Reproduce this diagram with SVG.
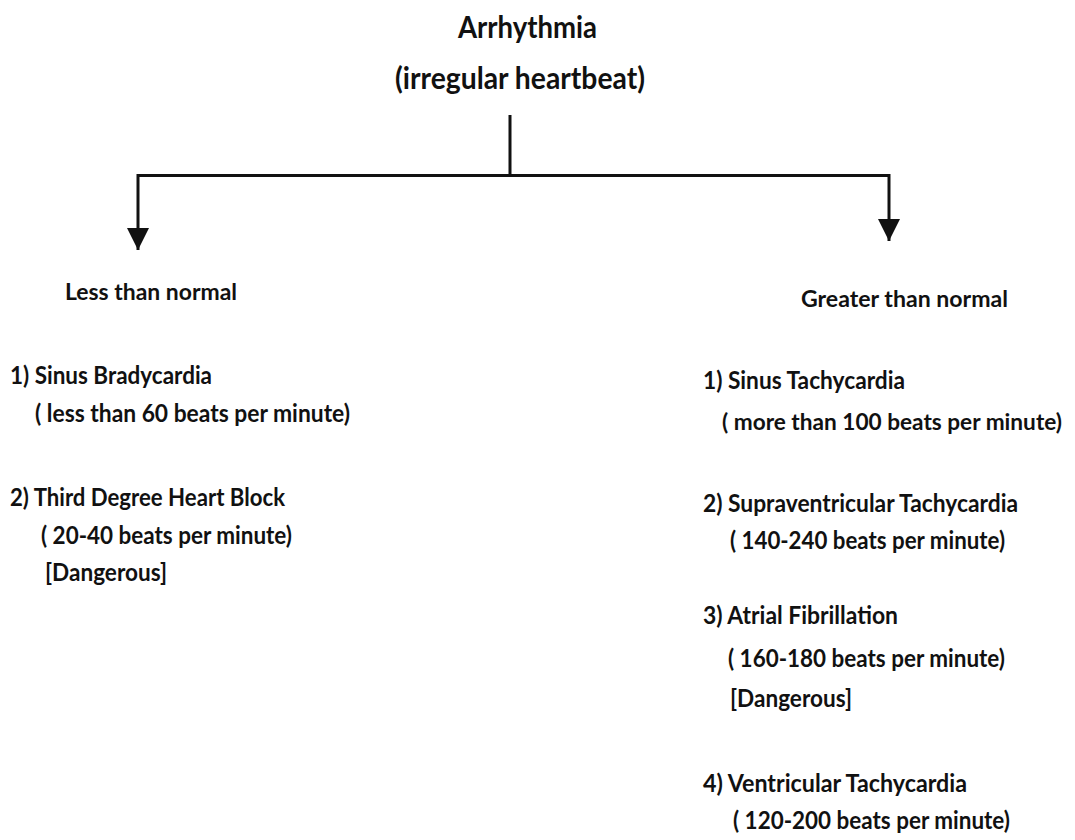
<svg xmlns="http://www.w3.org/2000/svg" width="1075" height="840" viewBox="0 0 1075 840">
<style>
text{font-family:Lato,"Open Sans","Liberation Sans",sans-serif;font-weight:bold;fill:#111;}
.t{font-size:30px;}
.h{font-size:22px;}
.i{font-size:25px;}
.s{font-size:23px;}
.c{fill:none;stroke:#111;stroke-width:3;}
</style>
<defs>
<marker id="ah" markerUnits="userSpaceOnUse" markerWidth="22" markerHeight="22" viewBox="0 0 22 22" refX="22" refY="11" orient="auto">
<path d="M0,0 L22,11 L0,22 z" fill="#111"/>
</marker>
</defs>
<rect width="1075" height="840" fill="#fff"/>
<g id="connectors">
<path class="c" d="M510,115 V175.5"/>
<path class="c" d="M138,175.5 H889"/>
<path class="c" d="M138,174 V250" marker-end="url(#ah)"/>
<path class="c" d="M889,174 V241" marker-end="url(#ah)"/>
</g>
<g id="root">
<text class="t" x="458" y="38" textLength="139" lengthAdjust="spacingAndGlyphs">Arrhythmia</text>
<text class="t" x="395" y="89" textLength="250" lengthAdjust="spacingAndGlyphs">(irregular heartbeat)</text>
</g>
<g id="less">
<text class="h" x="65" y="300" textLength="172" lengthAdjust="spacingAndGlyphs">Less than normal</text>
<text class="i" x="10" y="384" textLength="202" lengthAdjust="spacingAndGlyphs">1) Sinus Bradycardia</text>
<text class="i" x="35" y="422" textLength="315" lengthAdjust="spacingAndGlyphs">( less than 60 beats per minute)</text>
<text class="i" x="10" y="506" textLength="275" lengthAdjust="spacingAndGlyphs">2) Third Degree Heart Block</text>
<text class="i" x="41" y="544" textLength="251" lengthAdjust="spacingAndGlyphs">( 20-40 beats per minute)</text>
<text class="i" x="45" y="581" textLength="122" lengthAdjust="spacingAndGlyphs">[Dangerous]</text>
</g>
<g id="greater">
<text class="h" x="801" y="307" textLength="207" lengthAdjust="spacingAndGlyphs">Greater than normal</text>
<text class="i" x="703" y="389" textLength="202" lengthAdjust="spacingAndGlyphs">1) Sinus Tachycardia</text>
<text class="s" x="722" y="430" textLength="340" lengthAdjust="spacingAndGlyphs">( more than 100 beats per minute)</text>
<text class="i" x="703" y="512" textLength="315" lengthAdjust="spacingAndGlyphs">2) Supraventricular Tachycardia</text>
<text class="i" x="730" y="549" textLength="275" lengthAdjust="spacingAndGlyphs">( 140-240 beats per minute)</text>
<text class="i" x="703" y="624" textLength="195" lengthAdjust="spacingAndGlyphs">3) Atrial Fibrillation</text>
<text class="i" x="728" y="667" textLength="277" lengthAdjust="spacingAndGlyphs">( 160-180 beats per minute)</text>
<text class="i" x="730" y="707" textLength="122" lengthAdjust="spacingAndGlyphs">[Dangerous]</text>
<text class="i" x="703" y="792" textLength="264" lengthAdjust="spacingAndGlyphs">4) Ventricular Tachycardia</text>
<text class="i" x="733" y="829" textLength="277" lengthAdjust="spacingAndGlyphs">( 120-200 beats per minute)</text>
</g>
</svg>
